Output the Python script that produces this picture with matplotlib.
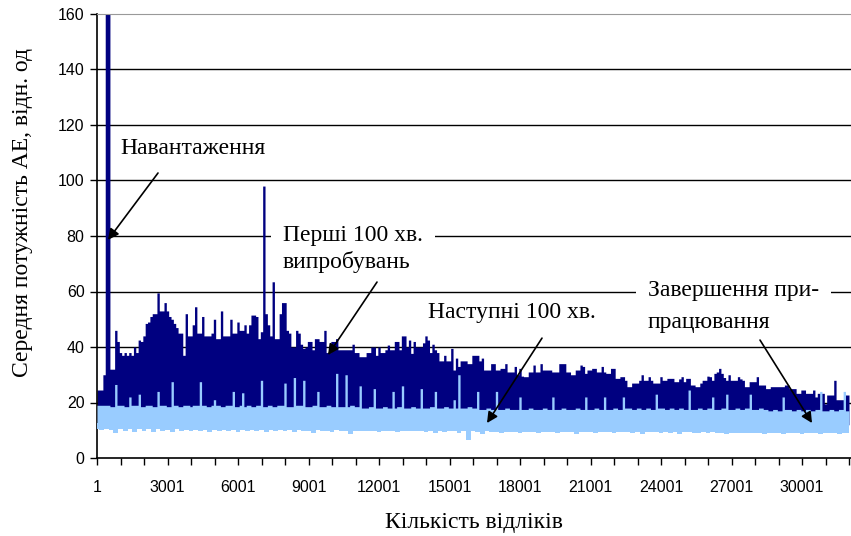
import numpy as np
import matplotlib
matplotlib.use("Agg")
import matplotlib.pyplot as plt

# ================================================================
# Data
# ================================================================
# upper envelope of the dark series, one value every 100 samples (1..32001)
dark_step = 100
dark_up = [
    24.5, 24.5, 24.5, 30, 165, 165, 32, 32, 46, 42,
    38, 37, 38, 37, 38, 37, 40, 38, 42.5, 42,
    44, 48.5, 49, 51, 52, 52, 59.5, 53, 53, 56,
    53, 51, 50, 48.5, 47, 45, 45, 37, 52, 44,
    44, 48, 54.5, 45, 45, 51, 44, 44, 44, 45,
    50, 43, 43, 53, 44, 44, 44, 50, 45, 45,
    49, 46, 46, 48, 45, 48, 51.5, 51.5, 51, 43,
    45.5, 98, 52, 48, 44, 63.5, 43, 43, 52, 56,
    56, 46, 45, 40, 40, 46, 45, 41, 39.5, 40,
    42, 42, 39, 43, 43, 42, 42, 46, 38, 38,
    42, 42, 43, 39, 39, 39, 39, 39, 39, 41,
    38, 38, 36.5, 36.5, 36.5, 38, 38, 40, 40, 37,
    40, 38, 38, 39, 40.7, 39, 39, 42, 42, 39,
    44, 44, 40, 42.5, 37.7, 42, 40, 40, 40, 41.5,
    44, 42.5, 38, 41, 39, 38, 35, 35, 37, 35,
    35, 39.5, 31.7, 36, 33, 35, 35, 35, 34, 34,
    37, 37, 37, 35, 36, 31.7, 31.7, 31.7, 34, 34,
    31.7, 31.7, 32.3, 32.3, 34, 31, 31, 31, 33, 30,
    32.3, 29.5, 29.3, 29.3, 31, 31, 33.5, 31, 31, 34,
    31.7, 31.7, 31.7, 31.7, 31, 31, 31, 34, 34, 34,
    31, 31, 30, 30, 31.7, 31.7, 33.5, 33, 30.5, 31.7,
    31.7, 32.3, 32.3, 31, 31, 33, 31, 30.5, 30.5, 32.3,
    32.3, 28.7, 28.7, 29.3, 29.3, 28, 25.7, 25.7, 27, 27,
    27, 28, 30, 28, 28, 29.3, 28, 27, 27, 27,
    29.3, 28, 28, 28.7, 28.7, 28.7, 27.5, 27.5, 28.5, 29.3,
    27.5, 28.7, 28.7, 26.3, 26.3, 25.7, 25.7, 27, 28, 28,
    29.5, 29.3, 28, 30.5, 31, 32.3, 30.5, 29, 28, 30,
    28, 28, 28, 29.3, 28.5, 28, 25.7, 25.7, 27.5, 27.5,
    27.5, 29.3, 26.3, 26.3, 26.3, 25, 25, 25.7, 25.7, 25.7,
    25.7, 25.7, 25.7, 26.3, 26.3, 25, 25, 25, 23.3, 23.3,
    24.5, 24.5, 23.3, 23.3, 23.3, 24.5, 22, 23.3, 23.3, 23.3,
    19.5, 22.7, 22.7, 22.7, 28, 21, 21, 21, 21, 22.7, 22.7,
]

# upper edge of the light series, one value every 100 samples (1..32001)
light_step = 100
light_up = [
    19, 19, 19, 19, 19, 19, 18.5, 18.5, 26.5, 19,
    19, 19, 18.5, 18.5, 22, 19, 19, 19, 23, 18.5,
    18.5, 19, 19, 19, 18.5, 18.5, 24, 19, 19, 19,
    18.5, 18.5, 27.5, 19, 19, 18.5, 18.5, 19, 19, 19,
    18.5, 19, 19, 19, 27.5, 19, 19, 18.5, 18.5, 19,
    21, 19, 19, 18.5, 18.5, 19, 19, 19, 24, 18.5,
    18.5, 19, 23.5, 18.5, 19, 19, 18.5, 18.5, 19, 19,
    28, 18.5, 18.5, 19, 19, 18.5, 18.5, 19, 19, 19,
    27, 18.5, 18.5, 18.5, 29, 19, 19, 19, 28, 18.5,
    18.5, 18.5, 19, 19, 24, 18.5, 18.5, 18.5, 19, 19,
    18.5, 18.5, 30.5, 18.5, 18.5, 18.5, 30, 18.5, 19, 19,
    18.5, 18.5, 26, 18, 18, 18, 18.5, 18.5, 25, 18,
    18, 18, 18.5, 18.5, 18, 18, 24, 18, 18.5, 18.5,
    26, 18, 18, 18, 18.5, 18.5, 18, 18, 25, 18,
    18, 18, 18.5, 18.5, 24, 18, 18, 18, 18.5, 18.5,
    18, 18, 21, 18, 30, 18, 18, 18, 18.5, 18.5,
    18, 18, 24, 17.5, 17.5, 17.5, 18, 18, 17.5, 17.5,
    24, 17.5, 17.5, 17.5, 18, 18, 17.5, 17.5, 17.5, 17.5,
    22, 17.5, 17.5, 17.5, 18, 18, 17.5, 17.5, 17.5, 17.5,
    18, 18, 17.5, 17.5, 22, 17.5, 17.5, 17.5, 18, 18,
    17.5, 17.5, 17.5, 17.5, 18, 18, 17.5, 17.5, 22, 17.5,
    17.5, 17.5, 18, 18, 17.5, 17.5, 22, 17.5, 17.5, 17.5,
    18, 18, 17.5, 17.5, 22, 18, 18, 18, 17.5, 17.5,
    18, 18, 17.5, 17.5, 18, 18, 17.5, 17.5, 23, 18,
    18, 18, 17.5, 17.5, 18, 18, 17.5, 17.5, 18, 18,
    17.5, 17.5, 24.5, 17.5, 17.5, 17.5, 18, 18, 17.5, 17.5,
    18, 18, 22, 17.5, 17.5, 17.5, 18, 18, 23, 17.5,
    17.5, 17.5, 18, 18, 17.5, 17.5, 18, 18, 23, 17.5,
    17.5, 17.5, 18, 18, 17.5, 17.5, 17, 17, 17.5, 17.5,
    17, 17, 22, 17.5, 17.5, 17.5, 17, 17, 17.5, 17.5,
    17, 17, 17.5, 17.5, 17, 17, 17.5, 17.5, 24, 17,
    17, 17, 17.5, 17.5, 17, 17, 17.5, 17.5, 24, 17, 17,
]

# lower edge of the light series, one value every 200 samples (1..32001)
low_step = 200
light_low = [
    10.5, 10, 10.4, 10.1, 9, 10.4, 9.8, 10.3, 9.4, 10.4,
    9.9, 10.3, 9.2, 10.3, 9.9, 10.2, 9.5, 10.3, 9.9, 10.1,
    9.6, 10.2, 9.9, 10, 9.3, 10.2, 9.8, 10.1, 9.8, 10.1,
    9.4, 10.1, 9.8, 10.1, 9.9, 10, 9.5, 10.1, 9.7, 10,
    9.8, 10, 9.4, 10, 9.8, 9.9, 9.1, 10, 9.7, 9.9,
    9.5, 10, 9.7, 9.8, 8.8, 9.9, 9.6, 9.8, 9.7, 9.8,
    9.3, 9.8, 9.6, 9.7, 9.2, 9.8, 9.6, 9.7, 9.6, 9.6,
    9.3, 9.7, 9.1, 9.6, 9.5, 9.7, 9.6, 8.9, 9.6, 6.5,
    9.6, 9.4, 8.8, 9.6, 9.5, 9.5, 9.1, 9.5, 9.4, 9.4,
    9, 9.5, 9.4, 9.4, 8.9, 9.5, 9.3, 9.4, 9.1, 9.3,
    9.3, 9.4, 8.8, 9.3, 9.2, 9.4, 9, 9.3, 9.3, 9.3,
    8.9, 9.3, 9.2, 9.2, 9.1, 9.3, 8.7, 9.2, 9.2, 9.2,
    9, 9.3, 9.1, 9.2, 8.8, 9.2, 9.2, 9.1, 9.1, 9.2,
    8.9, 9.2, 9.1, 9.1, 8.7, 9.1, 9.1, 9.1, 8.9, 9.1,
    9.1, 9.1, 8.8, 9, 9, 9.1, 8.7, 9, 9, 9,
    8.8, 9, 9, 9, 8.6, 9, 8.9, 9, 8.8, 9, 9,
]

x_ticklabels = ["1", "3001", "6001", "9001", "12001", "15001",
                "18001", "21001", "24001", "27001", "30001"]

n_last = 32086   # right edge of the plot area (in samples)

# ================================================================
# Plot
# ================================================================
serif = ['Liberation Serif', 'DejaVu Serif']
sans = ['Liberation Sans', 'DejaVu Sans']

fig = plt.figure(figsize=(8.51, 5.36), dpi=100)
ax = fig.add_axes([97 / 851, 1 - 458 / 536, 1 - 97 / 851, (458 - 14) / 536])

x_dark = 1 + dark_step * np.arange(len(dark_up))
x_light = 1 + light_step * np.arange(len(light_up))
x_low = 1 + low_step * np.arange(len(light_low))

ax.fill_between(x_dark, 12, dark_up, step='mid', color='#000080', lw=0, zorder=2)
ax.fill_between(x_light, 12, light_up, step='mid', color='#99CCFF', lw=0, zorder=3)
ax.fill_between(x_low, light_low, 12.5, step='mid', color='#99CCFF', lw=0, zorder=3)

ax.set_xlim(1, n_last)
ax.set_ylim(0, 160)

for v in range(20, 160, 20):
    ax.axhline(v, color='black', lw=1, zorder=1)

ax.set_yticks(range(0, 161, 20))
ax.set_xticks(1 + 1000 * np.arange(33))
ax.set_xticklabels([x_ticklabels[k // 3] if k % 3 == 0 and k // 3 < len(x_ticklabels) else ''
                    for k in range(33)])

ax.tick_params(axis='both', direction='out', length=5, width=1, color='black')
ax.tick_params(axis='x', pad=11)
ax.tick_params(axis='y', pad=4)
for lab in ax.get_xticklabels() + ax.get_yticklabels():
    lab.set_family(sans)
    lab.set_fontsize(11.5)

ax.spines['right'].set_visible(False)
ax.spines['top'].set_color('#999999')
ax.spines['left'].set_linewidth(1.2)
ax.spines['bottom'].set_linewidth(1.2)

ax.set_xlabel('Кількість відліків', family=serif, fontsize=17)
ax.set_ylabel('Середня потужність АЕ, відн. од', family=serif, fontsize=17)
ax.xaxis.set_label_coords(0.5, -0.121)
ax.yaxis.set_label_coords(-0.085, 0.554)

# annotations
arrow = dict(arrowstyle='-|>', color='black', lw=1.2, mutation_scale=16,
             shrinkA=0, shrinkB=0)
box = dict(boxstyle='square,pad=0.5', fc='white', ec='none')
tkw = dict(family=serif, fontsize=17, zorder=6)

ax.text(980, 111.7, 'Навантаження', va='center', ha='left', **tkw)
ax.annotate('', xy=(469, 78.6), xytext=(2597, 102.7), arrowprops=arrow, zorder=7)

ax.text(7916, 80, 'Перші 100 хв.', va='center', ha='left', bbox=box, **tkw)
ax.text(7916, 70.5, 'випробувань', va='center', ha='left', **tkw)
ax.annotate('', xy=(9831, 37.1), xytext=(11916, 63.4), arrowprops=arrow, zorder=7)

ax.text(14086, 52.6, 'Наступні 100 хв.', va='center', ha='left', **tkw)
ax.annotate('', xy=(16597, 12.6), xytext=(18937, 43.2), arrowprops=arrow, zorder=7)

ax.text(23448, 60.2, 'Завершення при-', va='center', ha='left', bbox=box, **tkw)
ax.text(23448, 49, 'працювання', va='center', ha='left', **tkw)
ax.annotate('', xy=(30427, 12.6), xytext=(28214, 42.5), arrowprops=arrow, zorder=7)

fig.savefig('out.png', dpi=100)
